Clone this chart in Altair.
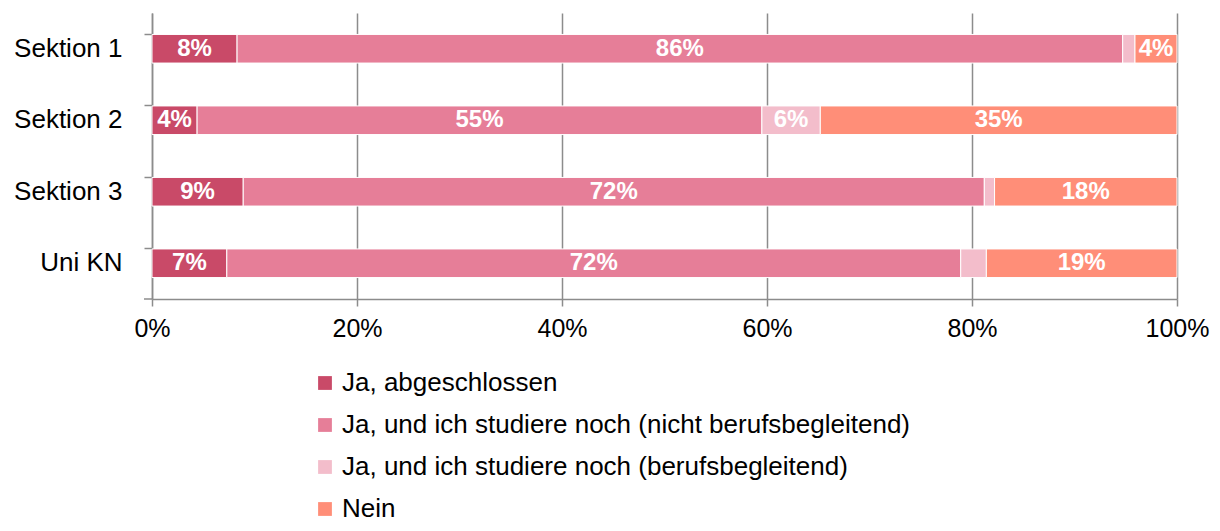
import altair as alt
import pandas as pd

categories = ["Sektion 1", "Sektion 2", "Sektion 3", "Uni KN"]
series = [
    "Ja, abgeschlossen",
    "Ja, und ich studiere noch (nicht berufsbegleitend)",
    "Ja, und ich studiere noch (berufsbegleitend)",
    "Nein",
]
colors = ["#C94A68", "#E67E98", "#F3BDCB", "#FF8E78"]

abgeschlossen = [8.3, 4.4, 8.9, 7.3]
nicht_berufsbegleitend = [86.4, 55.1, 72.3, 71.6]
berufsbegleitend = [1.2, 5.7, 1.0, 2.5]
nein = [4.1, 34.8, 17.8, 18.6]

x_ticks = [0, 20, 40, 60, 80, 100]

values = [abgeschlossen, nicht_berufsbegleitend, berufsbegleitend, nein]
rows = []
for si, (s, vals) in enumerate(zip(series, values)):
    for c, v in zip(categories, vals):
        rows.append({"cat": c, "series": s, "order": si, "value": v})
df = pd.DataFrame(rows)

FONT = "Liberation Sans"
GRID = "#8C8C8C"

base = alt.Chart(df).transform_stack(
    stack="value", groupby=["cat"], as_=["x0", "x1"],
    sort=[alt.SortField("order", order="ascending")],
).transform_calculate(
    mid="(datum.x0 + datum.x1) / 2",
    label="datum.value >= 3 ? format(datum.value / 100, '.0%') : ''",
)

y_enc = alt.Y(
    "cat:N", sort=categories, title=None,
    scale=alt.Scale(paddingInner=0.6, paddingOuter=0.3),
    axis=alt.Axis(
        bandPosition=0, labelFontSize=26, labelFont=FONT, labelColor="#000000",
        labelPadding=22, tickSize=8, tickColor=GRID, tickWidth=1.5,
        domainColor=GRID, domainWidth=1.5, grid=False,
    ),
)

bars = base.mark_bar(stroke="#FFFFFF", strokeWidth=1).encode(
    x=alt.X(
        "x0:Q", title=None,
        scale=alt.Scale(domain=[0, 100], nice=False),
        axis=alt.Axis(
            values=x_ticks, labelExpr="datum.value + '%'", labelFontSize=25,
            labelFont=FONT, labelColor="#000000", labelPadding=10,
            labelFlush=False, labelOverlap=False,
            tickSize=7, tickColor=GRID, tickWidth=1.5,
            domainColor=GRID, domainWidth=1.5,
            grid=True, gridColor=GRID, gridWidth=1.5,
        ),
    ),
    x2="x1:Q",
    y=y_enc,
    color=alt.Color(
        "series:N", sort=series,
        scale=alt.Scale(domain=series, range=colors),
        legend=alt.Legend(
            title=None, orient="none", direction="vertical",
            legendX=160, legendY=357,
            symbolType="square", symbolSize=190, symbolStrokeWidth=0,
            labelFontSize=26, labelFont=FONT, labelColor="#000000",
            labelOffset=4, labelLimit=0, rowPadding=16, padding=0,
        ),
    ),
    order=alt.Order("order:Q"),
)

labels = base.mark_text(
    color="#FFFFFF", fontWeight="bold", fontSize=24, font=FONT, baseline="middle",
).encode(
    x=alt.X("mid:Q"),
    y=alt.Y("cat:N", sort=categories),
    text="label:N",
)

bottom_tick = alt.Chart(pd.DataFrame({"a": [0]})).mark_rule(
    color=GRID, strokeWidth=1.5
).encode(x=alt.value(-8), x2=alt.value(0), y=alt.value(286))

chart = alt.layer(bars, labels, bottom_tick).properties(
    width=1025, height=286,
    autosize=alt.AutoSizeParams(type="none"),
    padding={"left": 144, "top": 5, "right": 35, "bottom": 232},
).configure_view(stroke=None)

chart.save("out.html", embed_options={"renderer": "svg", "actions": False})
